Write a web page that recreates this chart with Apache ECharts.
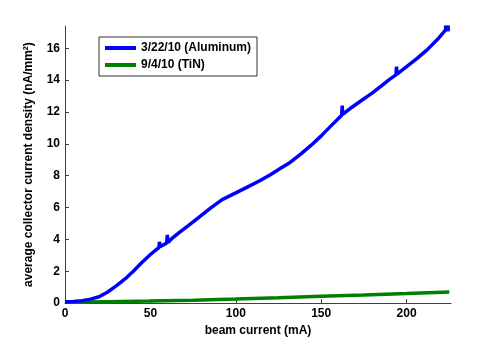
<!DOCTYPE html>
<html>
<head>
<meta charset="utf-8">
<script src="https://cdn.jsdelivr.net/npm/echarts@6/dist/echarts.min.js"></script>
<style>
  html, body { margin: 0; padding: 0; background: #fff; }
  #chart { width: 498px; height: 342px; }
</style>
</head>
<body>
<div id="chart"></div>
<script>
// beam current (mA) vs collector current density (nA/mm^2)
var aluminumX = [0, 5, 10, 15, 20, 25, 30, 35, 40, 45, 50, 53, 55, 55.3, 55.8, 57, 59.5, 59.9, 60.3, 63, 67, 72, 78, 85, 92, 100, 107, 114, 120, 126, 132, 138, 144, 150, 155, 162, 162.3, 162.6, 168, 174, 180, 186, 190, 193.8, 194.1, 194.4, 200, 206, 212, 218, 223.6];
var aluminumY = [0.08, 0.1, 0.15, 0.25, 0.4, 0.7, 1.08, 1.5, 2.0, 2.55, 3.05, 3.32, 3.48, 3.85, 3.55, 3.62, 3.78, 4.28, 3.8, 4.1, 4.44, 4.85, 5.35, 5.95, 6.5, 6.92, 7.3, 7.68, 8.05, 8.45, 8.85, 9.35, 9.9, 10.5, 11.05, 11.8, 12.4, 11.85, 12.3, 12.75, 13.2, 13.7, 14.05, 14.33, 14.85, 14.38, 14.85, 15.35, 15.9, 16.55, 17.25];

var tinX = [0, 25, 50, 75, 100, 125, 150, 175, 200, 225];
var tinY = [0.05, 0.09, 0.13, 0.18, 0.25, 0.33, 0.43, 0.51, 0.6, 0.7];

var xTicks = [0, 50, 100, 150, 200];
var yTicks = [0, 2, 4, 6, 8, 10, 12, 14, 16];

var seriesNames = ['3/22/10 (Aluminum)', '9/4/10 (TiN)'];

var chart = echarts.init(document.getElementById('chart'));

var aluminumData = aluminumX.map(function (x, i) {
    var item = { value: [x, aluminumY[i]] };
    if (i === aluminumX.length - 1) {
        item.symbol = 'rect';   // end marker
        item.symbolSize = 6;
    }
    return item;
});
var tinData = tinX.map(function (x, i) { return [x, tinY[i]]; });

var font = 'Liberation Sans, Arial, sans-serif';
var axisColor = '#404040';

chart.setOption({
    animation: false,
    grid: { left: 65, right: 47, top: 26, bottom: 38 },
    legend: {
        data: seriesNames,
        orient: 'vertical',
        left: 99,
        top: 37,
        padding: [5, 6, 5, 6],
        itemGap: 5,
        itemWidth: 31,
        itemHeight: 4,
        icon: 'rect',
        borderColor: '#333',
        borderWidth: 1,
        backgroundColor: '#fff',
        textStyle: { fontFamily: font, fontWeight: 'bold', fontSize: 12, color: '#000', lineHeight: 12 }
    },
    xAxis: {
        type: 'value',
        min: 0,
        max: 226,
        interval: 50,
        name: 'beam current (mA)',
        nameLocation: 'middle',
        nameGap: 18,
        nameTextStyle: { fontFamily: font, fontWeight: 'bold', fontSize: 12, color: '#000' },
        splitLine: { show: false },
        axisLine: { lineStyle: { color: axisColor } },
        axisTick: { inside: true, length: 4, customValues: xTicks, lineStyle: { color: axisColor } },
        axisLabel: { customValues: xTicks, margin: 5, fontFamily: font, fontWeight: 'bold', fontSize: 12, color: '#000' }
    },
    yAxis: {
        type: 'value',
        min: 0,
        max: 17.4,
        interval: 2,
        name: 'average collector current density (nA/mm²)',
        nameLocation: 'middle',
        nameGap: 30,
        nameTextStyle: { fontFamily: font, fontWeight: 'bold', fontSize: 12, color: '#000' },
        splitLine: { show: false },
        axisLine: { show: true, lineStyle: { color: axisColor } },
        axisTick: { show: true, inside: true, length: 4, customValues: yTicks, lineStyle: { color: axisColor } },
        axisLabel: { customValues: yTicks, margin: 5, fontFamily: font, fontWeight: 'bold', fontSize: 12, color: '#000' }
    },
    series: [
        {
            name: seriesNames[0],
            type: 'line',
            data: aluminumData,
            symbol: 'none',
            showSymbol: true,
            showAllSymbol: true,
            itemStyle: { color: '#0000ff' },
            lineStyle: { color: '#0000ff', width: 3.5 },
            z: 3
        },
        {
            name: seriesNames[1],
            type: 'line',
            data: tinData,
            symbol: 'none',
            itemStyle: { color: '#008000' },
            lineStyle: { color: '#008000', width: 3.5 },
            z: 2
        }
    ]
});
</script>
</body>
</html>
